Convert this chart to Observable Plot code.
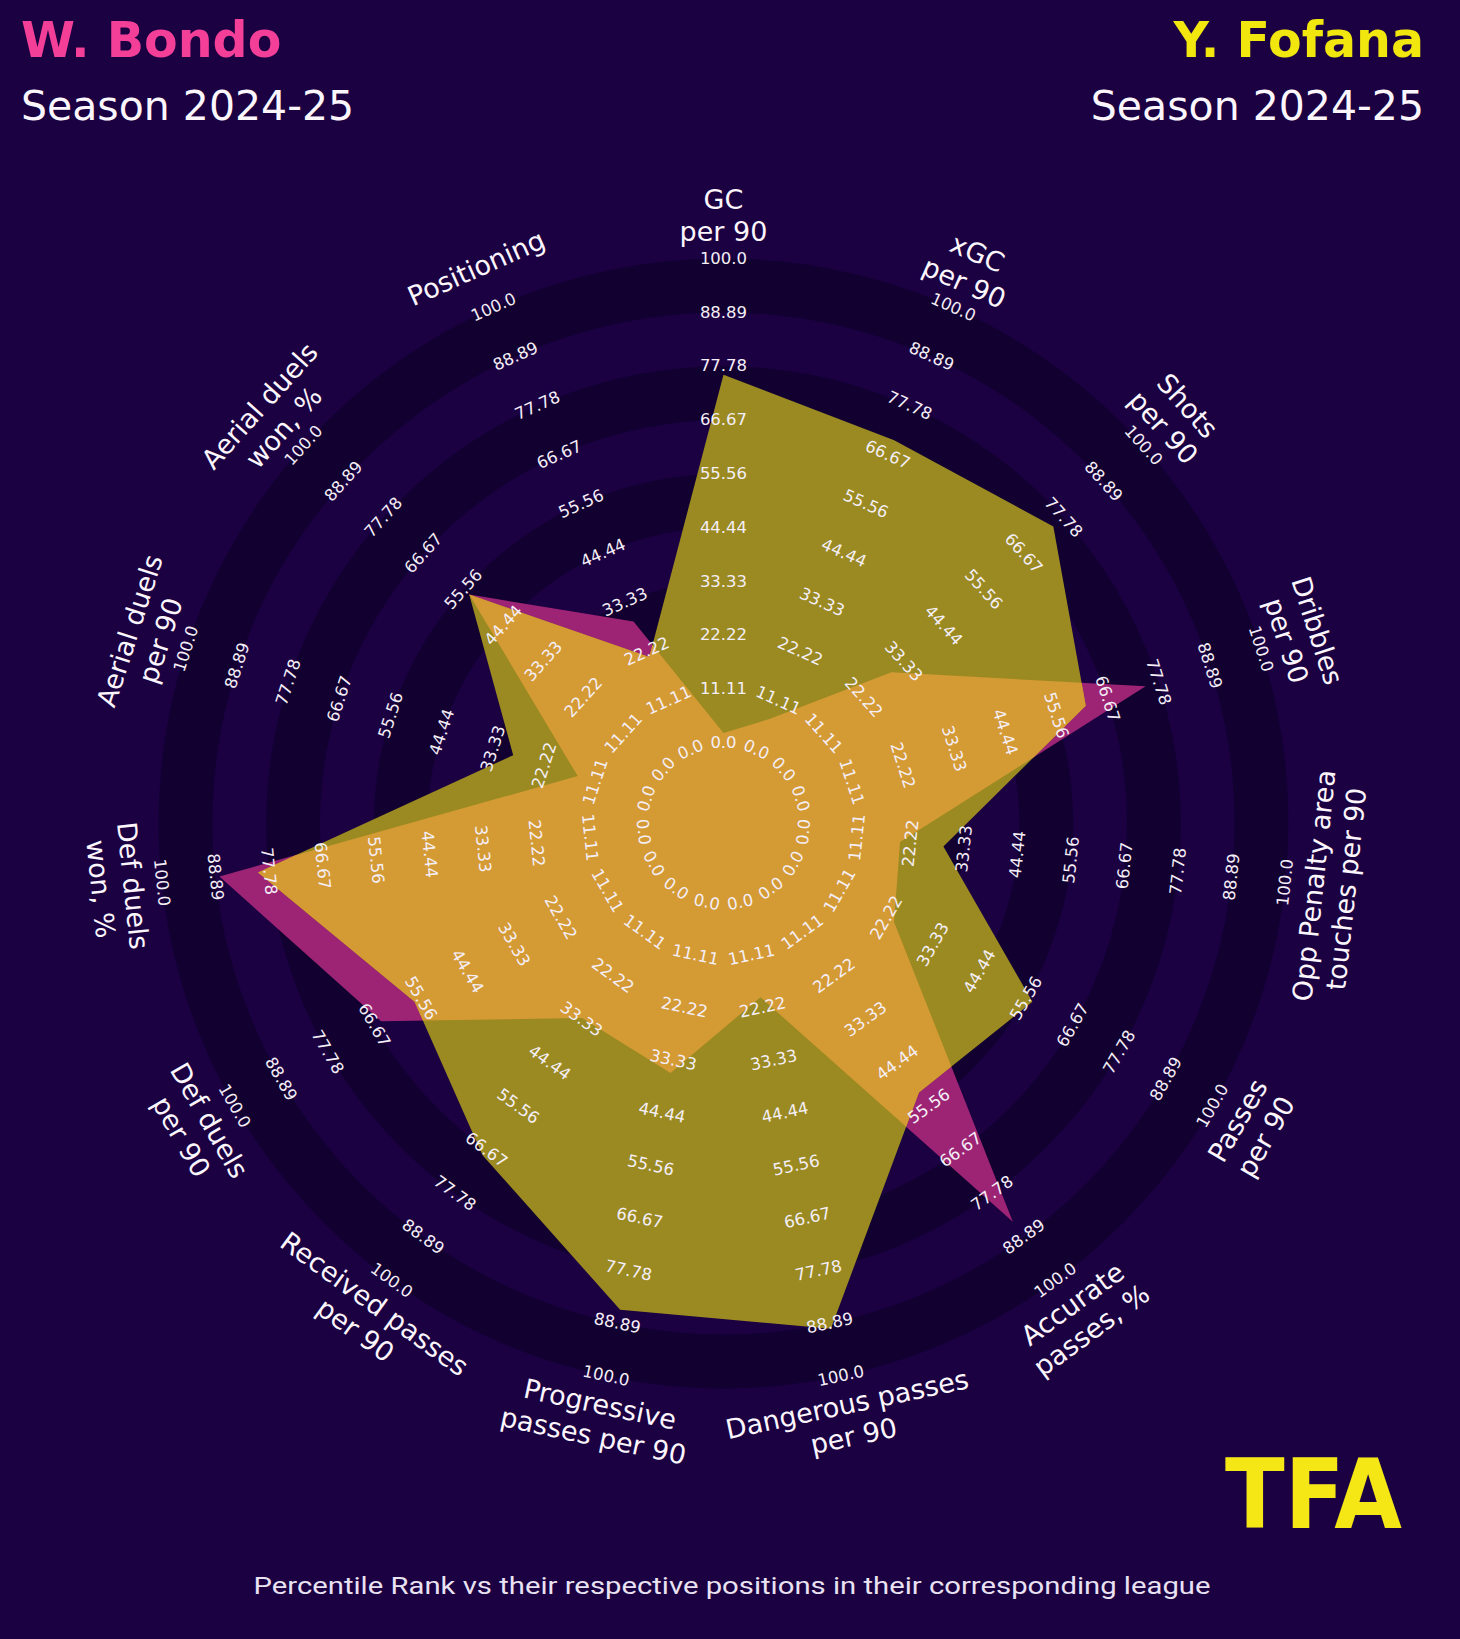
<!DOCTYPE html>
<html><head><meta charset="utf-8">
<script src="https://cdn.jsdelivr.net/npm/d3@7"></script>
<script src="https://cdn.jsdelivr.net/npm/@observablehq/plot@0.6"></script>
<style>
html,body{margin:0;padding:0;background:#1b0042;}
#page{position:relative;width:1460px;height:1639px;background:#1b0042;overflow:hidden;font-family:"DejaVu Sans",sans-serif;}
#header{position:relative;height:150px;}
.t{position:absolute;white-space:nowrap;line-height:1;}
#chart svg{display:block;}
#overlay{position:absolute;left:0;top:0;pointer-events:none;}
</style></head><body>
<div id="page">
  <div id="header">
    <div class="t" style="left:21px;top:16px;font-size:49px;font-weight:bold;color:#f43f98">W. Bondo</div>
    <div class="t" style="left:21px;top:86px;font-size:41px;color:#fbf6fc">Season 2024-25</div>
    <div class="t" style="right:36px;top:16px;font-size:49px;font-weight:bold;color:#f2e60f">Y. Fofana</div>
    <div class="t" style="right:36px;top:86px;font-size:41px;color:#fbf6fc">Season 2024-25</div>
  </div>
  <div id="chart"></div>
  <svg id="overlay" width="1460" height="1639">
    <text x="1225" y="1528" textLength="177" lengthAdjust="spacingAndGlyphs" font-family="DejaVu Sans" font-weight="bold" font-size="96" fill="#f5e615">TFA</text>
    <text x="732" y="1594" text-anchor="middle" textLength="957" lengthAdjust="spacingAndGlyphs" font-family="Roboto" font-size="24" fill="#e9e2f2">Percentile Rank vs their respective positions in their corresponding league</text>
  </svg>
</div>
<script>
// ---- data ----
const params = [
  "GC\nper 90", "xGC\nper 90", "Shots\nper 90", "Dribbles\nper 90",
  "Opp Penalty area\ntouches per 90", "Passes\nper 90", "Accurate\npasses, %",
  "Dangerous passes\nper 90", "Progressive\npasses per 90", "Received passes\nper 90",
  "Def duels\nper 90", "Def duels\nwon, %", "Aerial duels\nper 90",
  "Aerial duels\nwon, %", "Positioning"
];
const bondo  = [2, 7, 30, 75, 20, 24, 85, 20, 36, 33, 65, 88, 15, 54, 29];
const fofana = [76, 70, 75, 62, 29, 57, 52, 90, 86, 68, 57, 80, 29, 54, 21];
const ringLabels = ["0.0","11.11","22.22","33.33","44.44","55.56","66.67","77.78","88.89","100.0"];

// ---- layout / style ----
const W = 1460, H = 1390;
const CX = 723, CY = 673, U = 53.8;   // centre and ring width in px
const BG = "#1b0042", DARK = "#120030";
const PINK_ONLY = "#9d2474", YELLOW_ONLY = "#9a8a21", BOTH = "#d49a34";
const N = params.length;
const ang = i => i * 360 / N;
const rad = v => 1.5 + 9 * v / 100;         // ring units
const polar = (i, r) => {
  const t = ang(i) * Math.PI / 180;
  return {x: r * Math.sin(t), y: r * Math.cos(t)};
};
const rot = a => a <= 90 ? a : (a < 270 ? a - 180 : a - 360);

// alternating bands, edges at the range-label radii (outermost band dark)
const rings = d3.range(10, 0, -1).map(k => ({k: 0.5 + k, fill: k % 2 === 0 ? DARK : BG}));

const poly = vals => vals.map((v, i) => polar(i, rad(v)));

// overlap polygon (radial minimum of the two star-shaped polygons)
function overlap(a, b) {
  const out = [];
  for (let i = 0; i < N; i++) {
    const j = (i + 1) % N;
    const ra = rad(a[i]), rb = rad(b[i]);
    out.push(polar(i, Math.min(ra, rb)));
    const da = ra - rb, db = rad(a[j]) - rad(b[j]);
    if (da * db < 0) {
      const p1 = polar(i, ra), p2 = polar(j, rad(a[j]));
      const q1 = polar(i, rb), q2 = polar(j, rad(b[j]));
      const d1x = p2.x - p1.x, d1y = p2.y - p1.y, d2x = q2.x - q1.x, d2y = q2.y - q1.y;
      const den = d1x * d2y - d1y * d2x;
      const s = ((q1.x - p1.x) * d2y - (q1.y - p1.y) * d2x) / den;
      out.push({x: p1.x + s * d1x, y: p1.y + s * d1y});
    }
  }
  return out;
}

const rangeText = [];
params.forEach((p, i) => ringLabels.forEach((lab, j) => {
  rangeText.push({...polar(i, 1.5 + j), text: lab, rotate: rot(ang(i))});
}));
const paramText = params.map((p, i) => ({...polar(i, 11.32), text: p, rotate: rot(ang(i))}));

const chart = Plot.plot({
  width: W, height: H, margin: 0,
  x: {domain: [-CX / U, (W - CX) / U], range: [0, W], axis: null},
  y: {domain: [-(H - CY) / U, CY / U], range: [H, 0], axis: null},
  r: {type: "linear", domain: [0, 1], range: [0, U]},
  color: {type: "identity"},
  style: {background: "transparent", fontFamily: "DejaVu Sans", overflow: "visible"},
  marks: [
    Plot.dot(rings, {x: () => 0, y: () => 0, r: "k", fill: "fill", stroke: null}),
    Plot.line(poly(bondo), {x: "x", y: "y", curve: "linear-closed", fill: PINK_ONLY, stroke: "none"}),
    Plot.line(poly(fofana), {x: "x", y: "y", curve: "linear-closed", fill: YELLOW_ONLY, stroke: "none"}),
    Plot.line(overlap(bondo, fofana), {x: "x", y: "y", curve: "linear-closed", fill: BOTH, stroke: "none"}),
    Plot.text(rangeText, {x: "x", y: "y", text: "text", rotate: "rotate", fontSize: 16.5, fill: "#f4eef6", textAnchor: "middle"}),
    Plot.text(paramText, {x: "x", y: "y", text: "text", rotate: "rotate", fontSize: 27, lineHeight: 1.2, fill: "#fbf6fc", textAnchor: "middle"})
  ]
});
document.getElementById("chart").appendChild(chart);
</script>
</body></html>
